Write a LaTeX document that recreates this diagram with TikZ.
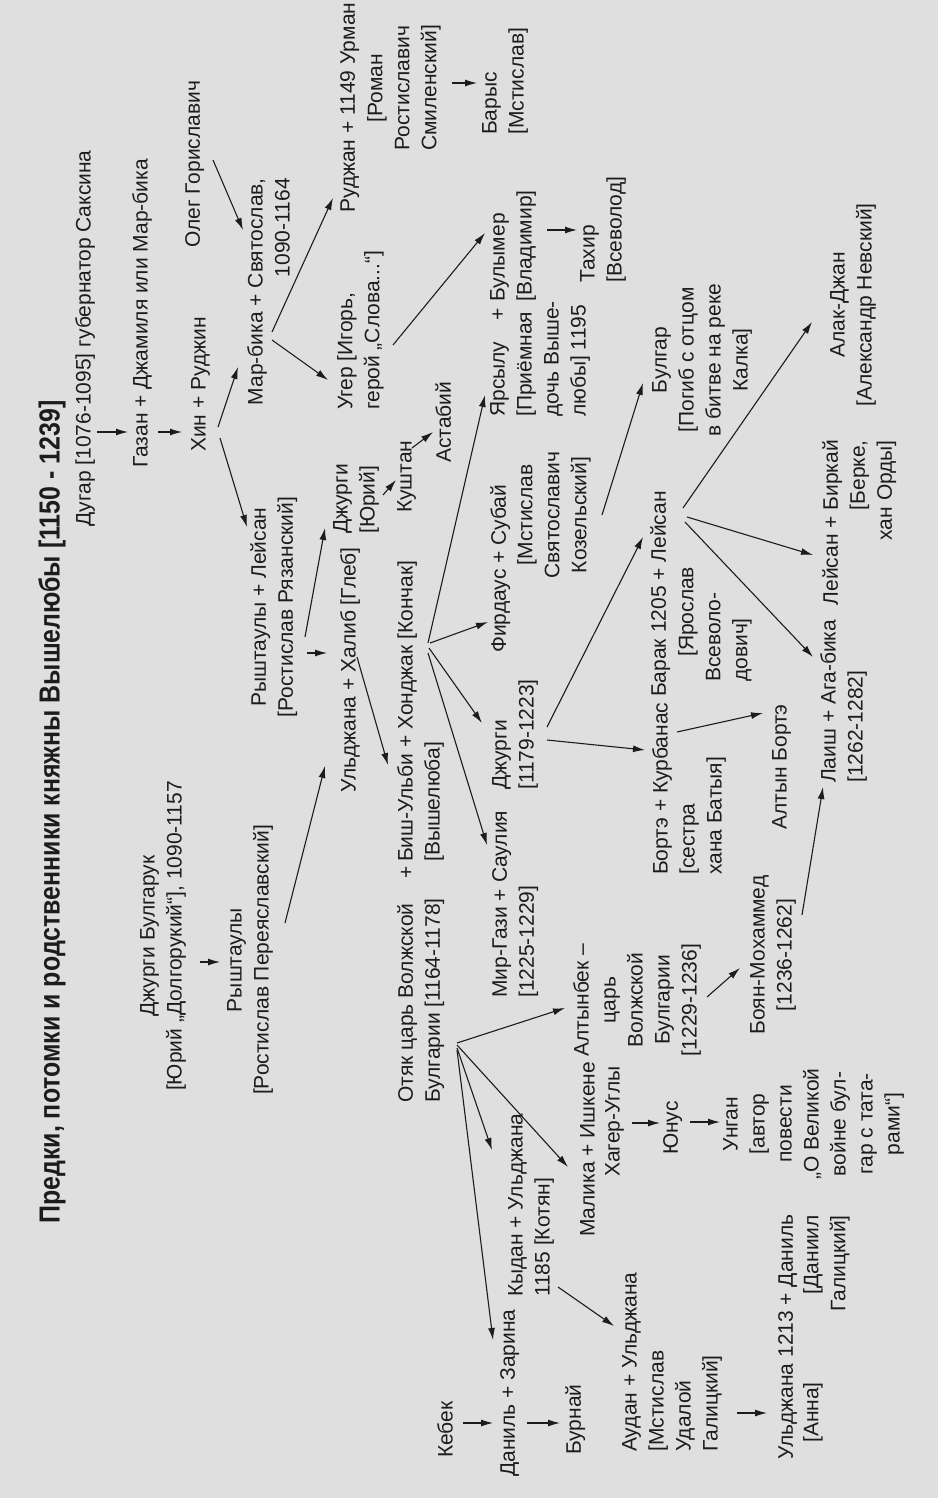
\documentclass[tikz,border=0pt]{standalone}
\usepackage{fontspec}
\setmainfont{Liberation Sans}
\newfontfamily\titlefont{Liberation Sans}[FakeStretch=0.86]
\usetikzlibrary{calc,arrows.meta}
\definecolor{paper}{RGB}{223,223,223}
\definecolor{ink}{RGB}{28,28,28}
\tikzset{
  lbl/.style={inner sep=0pt, text=ink, font=\fontsize{21}{27}\selectfont},
  arr/.style={draw=ink, line width=1.1pt, -{Latex[length=12pt,width=7pt]}},
}
\begin{document}
\begin{tikzpicture}[x=1pt,y=1pt]
  \fill[paper] (0,0) rectangle (938,-1498);
  \useasboundingbox (0,0) rectangle (938,-1498);
  \begin{scope}[rotate=90, transform shape]
    % names, placed at (-y,-x) of the scan
    \node[lbl, font=\titlefont\fontsize{29}{32}\selectfont\bfseries] (title) at (-812,-52) {Предки, потомки и родственники княжны Вышелюбы [1150 - 1239]};
    \node[lbl, anchor=north west] (dugar) at (-527,-75) {Дугар [1076-1095] губернатор Саксина};
    \node[lbl, anchor=north west] (gazan) at (-468,-132) {Газан + Джамиля или Мар-бика};
    \node[lbl, anchor=north west] (hin) at (-452,-191) {Хин + Руджин};
    \node[lbl, anchor=north west] (oleg) at (-248,-185) {Олег Гориславич};
    \node[lbl, anchor=north east, align=right] (marbika) at (-178,-247) {Мар-бика + Святослав,\\1090-1164};
    \node[lbl, anchor=north, align=center] (rysh) at (-607,-250) {Рыштаулы + Лейсан\\{}[Ростислав Рязанский]};
    \node[lbl, anchor=north west] (rudzhan) at (-213,-340) {Руджан + 1149 Урман};
    \node[lbl, anchor=north, align=center] (roman) at (-88,-367) {[Роман\\Ростиславич\\Смиленский]};
    \node[lbl, anchor=north west, align=left] (barys) at (-135,-482) {Барыс\\{}[Мстислав]};
    \node[lbl, anchor=north west, align=left] (uger) at (-410,-337) {Угер [Игорь,\\герой „Слова...“]};
    \node[lbl, anchor=north west, align=left] (dzhurgiyu) at (-534,-333) {Джурги\\{}[Юрий]};
    \node[lbl, anchor=north west] (uldzhana) at (-793,-340) {Ульджана + Халиб [Глеб]};
    \node[lbl, anchor=north, align=center] (dzhurgib) at (-936,-140) {Джурги Булгарук\\{}[Юрий „Долгорукий“], 1090-1157};
    \node[lbl, anchor=north, align=center] (ryshtauly) at (-960,-227) {Рыштаулы\\{}[Ростислав Переяславский]};
    \node[lbl, anchor=north west, align=left] (otyak) at (-1103,-397) {Отяк царь Волжской\\Булгарии [1164-1178]};
    \node[lbl] (plusb) at (-872,-407) {+};
    \node[lbl, anchor=north west, align=left] (bish) at (-862,-397) {Биш-Ульби + Хонджак [Кончак]\\{}[Вышелюба]};
    \node[lbl, anchor=north west] (kushtan) at (-513,-397) {Куштан};
    \node[lbl, anchor=north west] (astabiy) at (-463,-435) {Астабий};
    \node[lbl, anchor=north west, align=left] (yarsylu) at (-417,-490) {Ярсылу\quad+\\{}[Приёмная\\дочь Выше-\\любы] 1195};
    \node[lbl, anchor=north west, align=left] (bulymer) at (-302,-490) {Булымер\\{}[Владимир]};
    \node[lbl, anchor=north west, align=left] (takhir) at (-283,-580) {Тахир\\{}[Всеволод]};
    \node[lbl, anchor=north west] (firdaus) at (-653,-490) {Фирдаус + Субай};
    \node[lbl, anchor=north, align=center] (mstislavk) at (-515,-517) {[Мстислав\\Святославич\\Козельский]};
    \node[lbl, anchor=north, align=center] (bulgar) at (-360,-652) {Булгар\\{}[Погиб с отцом\\в битве на реке\\Калка]};
    \node[lbl, anchor=north west, align=left] (dzhurgi) at (-790,-492) {Джурги\\{}[1179-1223]};
    \node[lbl, anchor=north west, align=left] (mirgazi) at (-998,-492) {Мир-Гази + Саулия\\{}[1225-1229]};
    \node[lbl, anchor=north, align=center] (altynbek) at (-1000,-573) {Алтынбек –\\царь\\Волжской\\Булгарии\\{}[1229-1236]};
    \node[lbl, anchor=north west] (malika) at (-1237,-580) {Малика + Ишкене};
    \node[lbl, anchor=north west] (khager) at (-1177,-605) {Хагер-Углы};
    \node[lbl, anchor=north west] (yunus) at (-1155,-663) {Юнус};
    \node[lbl, anchor=north, align=center] (ungan) at (-1124,-723) {Унган\\{}[автор\\повести\\„О Великой\\войне бул-\\гар с тата-\\рами“]};
    \node[lbl, anchor=north west, align=left] (kydan) at (-1297,-508) {Кыдан + Ульджана\\1185 [Котян]};
    \node[lbl, anchor=north west] (danil) at (-1477,-500) {Даниль + Зарина};
    \node[lbl, anchor=north west] (kebek) at (-1458,-437) {Кебек};
    \node[lbl, anchor=north west] (burnay) at (-1455,-565) {Бурнай};
    \node[lbl, anchor=north west, align=left] (audan) at (-1452,-622) {Аудан + Ульджана\\{}[Мстислав\\Удалой\\Галицкий]};
    \node[lbl, anchor=north west] (uldzhanab) at (-1460,-778) {Ульджана 1213 + Даниль};
    \node[lbl, anchor=north west] (anna) at (-1443,-803) {[Анна]};
    \node[lbl, anchor=north east, align=right] (daniil) at (-1215,-803) {[Даниил\\Галицкий]};
    \node[lbl, anchor=north west, align=left] (borte) at (-875,-652) {Бортэ + Курбанас\\{}[сестра\\хана Батыя]};
    \node[lbl, anchor=north west] (altynborte) at (-830,-772) {Алтын Бортэ};
    \node[lbl, anchor=north, align=center] (boyan) at (-955,-750) {Боян-Мохаммед\\{}[1236-1262]};
    \node[lbl, anchor=north west] (barak) at (-697,-650) {Барак 1205 + Лейсан};
    \node[lbl, anchor=north west, align=left] (yaroslav) at (-682,-678) {\hspace*{25pt}[Ярослав\\Всеволо-\\дович]};
    \node[lbl, anchor=north west, align=left] (laish) at (-783,-820) {Лаиш + Ага-бика\\{}[1262-1282]};
    \node[lbl, anchor=north east, align=right] (leysan) at (-440,-822) {Лейсан + Биркай\\{}[Берке,\\хан Орды]};
    \node[lbl, anchor=north, align=center] (alak) at (-305,-830) {Алак-Джан\\{}[Александр Невский]};
    % descent lines
    \draw[arr] ($(dugar.north west)+(95,-22)$) -- ($(gazan.north west)+(36,4)$);
    \draw[arr] ($(gazan.north west)+(36,-26)$) -- ($(hin.north west)+(20,9)$);
    \draw[arr] ($(hin.north west)+(25,-27)$) -- ($(marbika.north east)+(-189,9)$);
    \draw[arr] ($(hin.north west)+(14,-29)$) -- ($(rysh.north)+(80,3)$);
    \draw[arr] ($(oleg.north west)+(88,-28)$) -- ($(marbika.north east)+(-52,4)$);
    \draw[arr] ($(marbika.north east)+(-154,-25)$) -- ($(rudzhan.north west)+(15,7)$);
    \draw[arr] ($(marbika.north east)+(-162,-25)$) -- ($(uger.north west)+(30,9)$);
    \draw[arr] ($(roman.north)+(5,-85)$) -- ($(barys.north west)+(52,5)$);
    \draw[arr] ($(rysh.north)+(-30,-55)$) -- ($(dzhurgiyu.north west)+(6,8)$);
    \draw[arr] ($(rysh.north)+(-46,-57)$) -- ($(uldzhana.north west)+(140,13)$);
    \draw[arr] ($(dzhurgib.north)+(-26,-60)$) -- ($(ryshtauly.north)+(-2,7)$);
    \draw[arr] ($(ryshtauly.north)+(37,-58)$) -- ($(uldzhana.north west)+(27,15)$);
    \draw[arr] ($(uldzhana.north west)+(136,-17)$) -- ($(bish.north west)+(97,9)$);
    \draw[arr] ($(dzhurgiyu.north west)+(39,-50)$) -- ($(kushtan.north west)+(33,1)$);
    \draw[arr] ($(kushtan.north west)+(65,-15)$) -- ($(astabiy.north west)+(31,2)$);
    \draw[arr] ($(bish.north west)+(219,-31)$) -- ($(yarsylu.north west)+(22,5)$);
    \draw[arr] ($(bish.north west)+(219,-33)$) -- ($(firdaus.north west)+(31,2)$);
    \draw[arr] ($(bish.north west)+(214,-32)$) -- ($(dzhurgi.north west)+(67,10)$);
    \draw[arr] ($(bish.north west)+(209,-31)$) -- ($(mirgazi.north west)+(153,5)$);
    \draw[arr] ($(uger.north west)+(65,-56)$) -- ($(bulymer.north west)+(69,5)$);
    \draw[arr] ($(bulymer.north west)+(72,-57)$) -- ($(takhir.north west)+(53,3)$);
    \draw[arr] ($(mstislavk.north)+(0,-85)$) -- ($(bulgar.north)+(-23,9)$);
    \draw[arr] ($(dzhurgi.north west)+(63,-55)$) -- ($(barak.north west)+(160,7)$);
    \draw[arr] ($(dzhurgi.north west)+(50,-55)$) -- ($(borte.north west)+(125,7)$);
    \draw[arr] ($(borte.north west)+(143,-25)$) -- ($(altynborte.north west)+(117,9)$);
    \draw[arr] ($(barak.north west)+(175,-35)$) -- ($(laish.north west)+(126,7)$);
    \draw[arr] ($(barak.north west)+(180,-37)$) -- ($(leysan.north east)+(-115,9)$);
    \draw[arr] ($(barak.north west)+(189,-33)$) -- ($(alak.north)+(-17,18)$);
    \draw[arr] ($(otyak.north west)+(60,-60)$) -- ($(altynbek.north)+(-8,8)$);
    \draw[arr] ($(otyak.north west)+(58,-60)$) -- ($(malika.north west)+(70,12)$);
    \draw[arr] ($(otyak.north west)+(55,-60)$) -- ($(kydan.north west)+(147,16)$);
    \draw[arr] ($(otyak.north west)+(53,-60)$) -- ($(danil.north west)+(137,7)$);
    \draw[arr] ($(kydan.north west)+(10,-50)$) -- ($(audan.north west)+(126,8)$);
    \draw[arr] ($(kebek.north west)+(35,-26)$) -- ($(danil.north west)+(54,7)$);
    \draw[arr] ($(danil.north west)+(54,-27)$) -- ($(burnay.north west)+(32,5)$);
    \draw[arr] ($(khager.north west)+(54,-27)$) -- ($(yunus.north west)+(32,3)$);
    \draw[arr] ($(yunus.north west)+(33,-27)$) -- ($(ungan.north)+(2,3)$);
    \draw[arr] ($(audan.north west)+(39,-115)$) -- ($(uldzhanab.north west)+(47,11)$);
    \draw[arr] ($(altynbek.north)+(3,-134)$) -- ($(boyan.north)+(-13,10)$);
    \draw[arr] ($(boyan.north)+(40,-52)$) -- ($(laish.north west)+(-4,-3)$);
  \end{scope}
\end{tikzpicture}
\end{document}
